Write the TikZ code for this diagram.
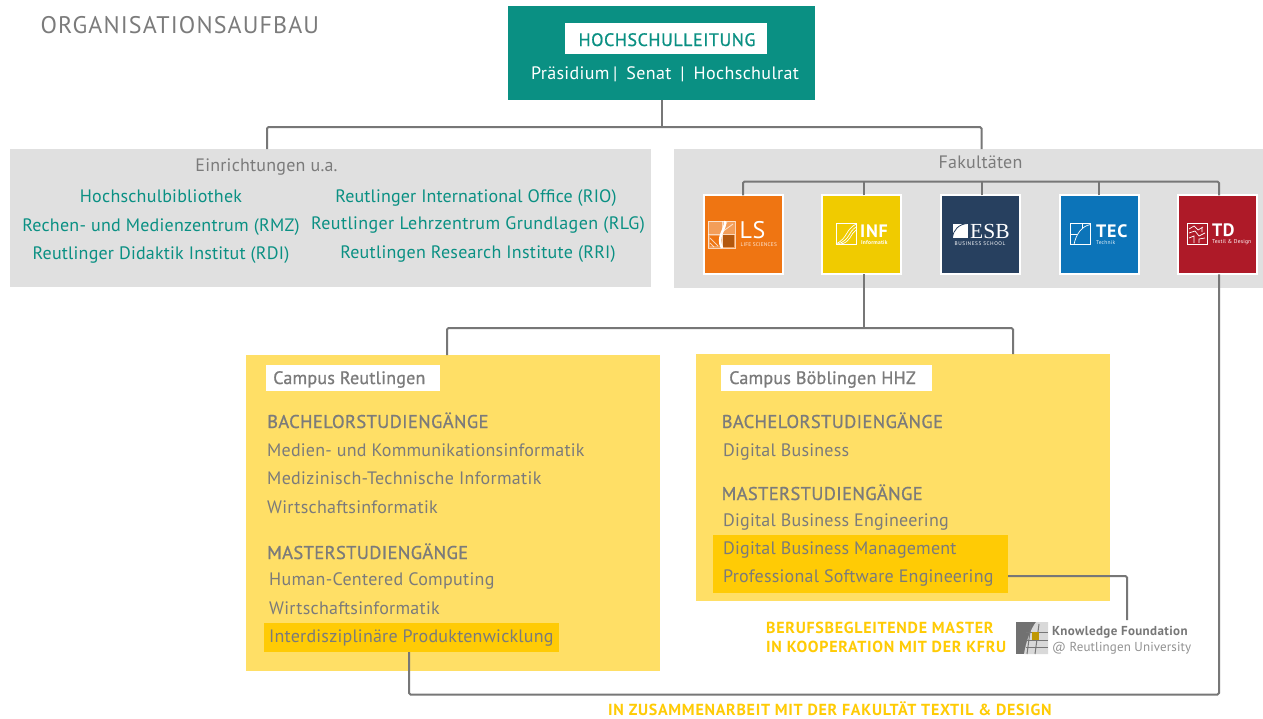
\documentclass[tikz,border=0pt]{standalone}
\usepackage{fontspec}
\setmainfont{PT Sans}
\definecolor{teal}{HTML}{0A9083}
\definecolor{panel}{HTML}{E0E0E0}
\definecolor{txt}{HTML}{7B7B7B}
\definecolor{line}{HTML}{777777}
\definecolor{camp}{HTML}{FFDF66}
\definecolor{hl}{HTML}{FFCB05}
\definecolor{ls}{HTML}{EF7512}
\definecolor{inf}{HTML}{F0CB00}
\definecolor{esb}{HTML}{27405F}
\definecolor{tec}{HTML}{0C74B9}
\definecolor{td}{HTML}{AE1A28}
\newcommand{\spc}[1]{\addfontfeature{LetterSpace=#1}}
\newcommand{\med}[1]{\addfontfeature{LetterSpace=#1,FakeBold=0.9}}
\tikzset{
 x=1pt,y=-1pt,
 box/.style={inner sep=0pt,outer sep=0pt,anchor=north west},
 conn/.style={draw=line,line width=2pt,rounded corners=1.5pt},
 tx/.style={inner sep=0pt,text=txt,font=\fontsize{18}{20}\selectfont\spc{1.2}},
 txl/.style={tx,anchor=base west},
 head/.style={txl,font=\fontsize{18.5}{20}\selectfont\med{2.1}},
 tealt/.style={inner sep=0pt,anchor=base,text=teal,font=\fontsize{18}{20}\selectfont\spc{1.3}},
 note/.style={inner sep=0pt,anchor=base west,text=hl,font=\fontsize{16}{18}\selectfont\bfseries\spc{4.5}},
 logo/.style={draw=white,line width=2pt,inner sep=0pt,outer sep=0pt,minimum width=79pt,minimum height=79pt,anchor=north west},
 lt/.style={inner sep=0pt,anchor=base west,text=white,font=\fontsize{18}{18}\selectfont\bfseries},
 lsm/.style={inner sep=0pt,anchor=base west,text=white,font=\fontsize{5.5}{6}\selectfont},
 ic/.style={draw=white,line width=1pt},
}
\newcommand{\rectnode}[6]{\node[box,fill=#2,minimum width=#5pt-#3pt,minimum height=#6pt-#4pt] (#1) at (#3,#4) {};}
\begin{document}
\begin{tikzpicture}
\useasboundingbox (0,0) rectangle (1263,718);
\fill[white] (0,0) rectangle (1263,718);
\node[tx,anchor=base west,font=\fontsize{24}{26}\selectfont\spc{4.7}] (title) at (40.5,33) {ORGANISATIONSAUFBAU};

% panels
\rectnode{top}{teal}{508}{6}{815}{100}
\rectnode{toplabel}{white}{565}{23}{767}{54}
\rectnode{einr}{panel}{10}{149}{651}{287}
\rectnode{fak}{panel}{674}{149}{1263}{288}
\rectnode{cr}{camp}{246}{355}{660}{671}
\rectnode{cb}{camp}{696}{354}{1110}{601}
\rectnode{crl}{white}{266}{365}{440}{391}
\rectnode{cbl}{white}{721}{365}{932}{391}
\rectnode{hlr}{hl}{264}{623}{559}{652}
\rectnode{hlb}{hl}{713}{535}{1008}{593}

% faculty tiles
\node[logo,fill=ls] (LS) at (703.8,195.3) {};
\node[logo,fill=inf] (INF) at (822,195.3) {};
\node[logo,fill=esb] (ESB) at (941,195.3) {};
\node[logo,fill=tec] (TEC) at (1059.7,195.3) {};
\node[logo,fill=td] (TD) at (1178,195.3) {};

% connectors
\coordinate (j0) at (662,127);
\coordinate (j1) at (267,127);
\coordinate (j2) at (981.5,127);
\coordinate (f0) at (743,181.5);
\coordinate (f1) at (1219,181.5);
\coordinate (c1) at (447,328);
\coordinate (c2) at (1013,328);
\coordinate (k1) at (1127,576);
\coordinate (kf) at (1127,620);
\coordinate (b1) at (409,694.5);
\coordinate (b2) at (1219,694.5);
\draw[conn] (top.south -| j0) -- (j0);
\draw[conn] (einr.north -| j1) -- (j1) -- (j2) -- (fak.north -| j2);
\draw[conn] (LS.north -| f0) -- (f0) -- (f1) -- (TD.north -| f1);
\draw[conn] (INF.north -| 863.5,0) -- (863.5,181.5);
\draw[conn] (ESB.north -| 981.5,0) -- (981.5,181.5);
\draw[conn] (TEC.north -| 1099,0) -- (1099,181.5);
\draw[conn] (cr.north -| c1) -- (c1) -- (c2) -- (cb.north -| c2);
\draw[conn] (INF.south -| 863.5,0) -- (863.5,328);
\draw[conn] (hlb.east |- k1) -- (k1) -- (kf);
\draw[conn] (hlr.south -| b1) -- (b1) -- (b2) -- (TD.south -| b2);

% top
\node[inner sep=0pt,anchor=base,text=teal,font=\fontsize{18}{20}\selectfont\med{3}] (hs) at (667,46) {HOCHSCHULLEITUNG};
\node[inner sep=0pt,anchor=base,text=white,font=\fontsize{18}{20}\selectfont\spc{2}] (hs2) at (665,79) {Präsidium\hspace{3.5pt}|\hspace{9pt}Senat\hspace{9pt}|\hspace{9pt}Hochschulrat};

% Einrichtungen
\node[tx,anchor=base] (e0) at (266.5,171) {Einrichtungen u.a.};
\node[tealt] (e1) at (161,202) {Hochschulbibliothek};
\node[tealt] (e2) at (161,231) {Rechen- und Medienzentrum (RMZ)};
\node[tealt,font=\fontsize{18}{20}\selectfont\spc{1.1}] (e3) at (161,259) {Reutlinger Didaktik Institut (RDI)};
\node[tealt,font=\fontsize{18}{20}\selectfont\spc{0.8}] (e4) at (476,202) {Reutlinger International Office (RIO)};
\node[tealt,font=\fontsize{18}{20}\selectfont\spc{2.2}] (e5) at (478,229) {Reutlinger Lehrzentrum Grundlagen (RLG)};
\node[tealt,font=\fontsize{18}{20}\selectfont\spc{1.4}] (e6) at (478,258) {Reutlingen Research Institute (RRI)};
\node[tx,anchor=base] (f) at (980.5,168) {Fakultäten};

% Reutlingen
\node[txl,font=\fontsize{18}{20}\selectfont\med{1.3}] (r0) at (273,384) {Campus Reutlingen};
\node[head] (r1) at (267,428) {BACHELORSTUDIENGÄNGE};
\node[txl] (r2) at (267,456) {Medien- und Kommunikationsinformatik};
\node[txl,font=\fontsize{18}{20}\selectfont\spc{1.8}] (r3) at (267,484) {Medizinisch-Technische Informatik};
\node[txl,font=\fontsize{18}{20}\selectfont\spc{1.5}] (r4) at (267,513) {Wirtschaftsinformatik};
\node[head] (r5) at (267,559) {MASTERSTUDIENGÄNGE};
\node[txl,font=\fontsize{18}{20}\selectfont\spc{1.6}] (r6) at (269,585) {Human-Centered Computing};
\node[txl,font=\fontsize{18}{20}\selectfont\spc{1.5}] (r7) at (269,614) {Wirtschaftsinformatik};
\node[txl] (r8) at (269,642) {Interdisziplinäre Produktenwicklung};

% Boeblingen
\node[txl,font=\fontsize{18}{20}\selectfont\med{1.3}] (b0) at (729,384) {Campus Böblingen HHZ};
\node[head] (b1t) at (721.5,428) {BACHELORSTUDIENGÄNGE};
\node[txl] (b2t) at (723,456) {Digital Business};
\node[head] (b3t) at (721.5,500) {MASTERSTUDIENGÄNGE};
\node[txl] (b4t) at (723,526) {Digital Business Engineering};
\node[txl] (b5t) at (723,554) {Digital Business Management};
\node[txl,font=\fontsize{18}{20}\selectfont\spc{1.3}] (b6t) at (723,582) {Professional Software Engineering};

% notes
\node[note] (n1) at (766,633) {BERUFSBEGLEITENDE MASTER};
\node[note] (n2) at (766,652) {IN KOOPERATION MIT DER KFRU};
\node[note] (n3) at (608,715) {IN ZUSAMMENARBEIT MIT DER FAKULTÄT TEXTIL \& DESIGN};

% LS logo
\fill[white,opacity=.3] (708,221) rectangle (735,248);
\draw[white,opacity=.7,line width=.8pt] (708,221) rectangle (735,248);
\draw[white,opacity=.6,line width=.8pt] (708,234) -- (735,234) (722,221) -- (722,248);
\fill[ls!75!black] (723,235) rectangle (734,247);
\fill[ls] (710,236) rectangle (720,246);
\draw[white,opacity=.7,line width=1pt] (710,238) -- (718,246) (710,243) -- (714,247);
\draw[white,line width=2.5pt] (725,221) .. controls (726,230) and (716,236) .. (722,248);
\draw[white,opacity=.7,line width=.8pt] (722,232) -- (733,224) (723,229) -- (727,222);
\node[lt,font=\fontsize{24}{24}\selectfont\spc{2}] (lsa) at (739.5,238.5) {LS};
\node[lsm,font=\fontsize{5.4}{6}\selectfont\spc{3},opacity=.85] (lsb) at (740.5,246.5) {LIFE SCIENCES};

% INF logo
\draw[ic] (836,223.5) rectangle (856,244.5);
\draw[white,line width=.7pt] (836,244) .. controls (848,238) and (845,230) .. (856,224);
\draw[white,line width=.7pt] (838,244) .. controls (850,240) and (848,232) .. (856,227);
\draw[white,line width=.7pt] (841,244) .. controls (851,242) and (850,234) .. (856,230);
\node[lt,font=\fontsize{18}{18}\selectfont\bfseries\spc{4}] (infa) at (860,237) {INF};
\node[lsm,font=\fontsize{5.5}{6}\selectfont\bfseries\spc{4}] (infb) at (861,244.5) {Informatik};

% ESB logo
\fill[white] (952.5,223.5) rectangle (967.5,238);
\draw[esb,line width=.8pt] (952.5,238) .. controls (953,230) and (959,224) .. (967.5,223.5);
\node[inner sep=0pt,anchor=base west,text=white,font=\fontsize{21.5}{22}\selectfont\setmainfont{Liberation Serif}] (esba) at (970,238) {ESB};
\node[inner sep=0pt,anchor=base,text=white,font=\fontsize{5.3}{6}\selectfont\spc{10}] (esbb) at (980,245) {BUSINESS SCHOOL};

% TEC logo
\draw[ic] (1070.5,223.5) rectangle (1090.5,244.5);
\draw[white,line width=.7pt] (1074,244.5) .. controls (1076,234) and (1082,226) .. (1090.5,224.5);
\draw[white,line width=.7pt] (1070.5,234) -- (1077,234);
\draw[white,line width=.7pt] (1082,223.5) -- (1082,228);
\node[lt,font=\fontsize{18}{18}\selectfont\bfseries\spc{4}] (teca) at (1096,237) {TEC};
\node[lsm,opacity=.9,font=\fontsize{5.5}{6}\selectfont\spc{4}] (tecb) at (1096,244) {Technik};

% TD logo
\draw[ic] (1187,223.5) rectangle (1207,244.5);
\draw[white,line width=.7pt] (1189,229) -- (1194,226) -- (1198,230) -- (1203,227) (1189,233) -- (1195,231) -- (1199,236) -- (1205,233) (1189,238) -- (1194,236) -- (1194,243) (1199,243) -- (1199,239) -- (1205,238) (1202,227) -- (1202,232);
\node[lt,font=\fontsize{18}{18}\selectfont\bfseries\spc{3}] (tda) at (1212,236) {TD};
\node[lsm,font=\fontsize{5.6}{6}\selectfont\spc{3}] (tdb) at (1212,243.5) {Textil \& Design};

% Knowledge Foundation logo
\fill[line!95!black] (1016,622) rectangle (1048,654);
\fill[white!85!black] (1036,622) -- (1048,622) -- (1048,654) -- (1024,654) .. controls (1026,642) and (1030,630) .. (1036,622) -- cycle;
\foreach \xx in {1031,1039}{\draw[line,line width=1pt] (\xx,624) -- (\xx-4,654);}
\foreach \yy in {632,640,647}{\draw[line,line width=1pt] (1026,\yy) -- (1048,\yy);}
\fill[hl!75!black] (1032,632) rectangle +(7,8);
\node[inner sep=0pt,anchor=base west,text=line,font=\fontsize{13}{13}\selectfont\bfseries\spc{2.9}] (kfa) at (1052,635) {Knowledge Foundation};
\node[inner sep=0pt,anchor=base west,text=line!80,font=\fontsize{13}{13}\selectfont\spc{0.9}] (kfb) at (1052,651) {@ Reutlingen University};
\end{tikzpicture}
\end{document}
